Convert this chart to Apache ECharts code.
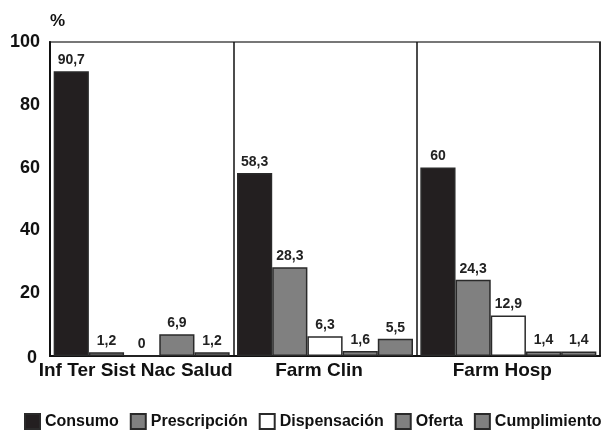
<!DOCTYPE html>
<html>
<head>
<meta charset="utf-8">
<style>
  html, body { margin: 0; padding: 0; background: #fff; }
  #chart { width: 607px; height: 430px; }
</style>
<script src="https://cdn.jsdelivr.net/npm/echarts@6/dist/echarts.min.js"></script>
</head>
<body>
<div id="chart"></div>
<script>
// Categories (groups along the x axis)
var categories = ['Inf Ter Sist Nac Salud', 'Farm Clin', 'Farm Hosp'];

// Series values, in %
var consumo      = [90.7, 58.3, 60];
var prescripcion = [1.2, 28.3, 24.3];
var dispensacion = [0, 6.3, 12.9];
var oferta       = [6.9, 1.6, 1.4];
var cumplimiento = [1.2, 5.5, 1.4];

var seriesNames = ['Consumo', 'Prescripción', 'Dispensación', 'Oferta', 'Cumplimiento'];

var FONT = '"Liberation Sans", Arial, Helvetica, sans-serif';
var EDGE = '#2a2a2a';

function fmt(v) {
  return String(v).replace('.', ',');
}

function barSeries(name, values, fill) {
  return {
    name: name,
    type: 'bar',
    data: values,
    barGap: '0%',
    barCategoryGap: '4%',
    itemStyle: { color: fill, borderColor: EDGE, borderWidth: 1.5 },
    label: {
      show: true,
      position: 'top',
      distance: 4,
      fontFamily: FONT,
      fontWeight: 'bold',
      fontSize: 14,
      color: '#222',
      formatter: function (p) { return fmt(p.value); }
    }
  };
}

var chart = echarts.init(document.getElementById('chart'), null, { renderer: 'canvas' });

chart.setOption({
  animation: false,
  backgroundColor: '#fff',
  textStyle: { fontFamily: FONT },
  grid: {
    left: 50, right: 7, top: 42, bottom: 74,
    show: true, borderColor: '#777', borderWidth: 2, backgroundColor: 'transparent'
  },
  legend: {
    left: 24, top: 413, padding: 0,
    itemWidth: 15, itemHeight: 15, itemGap: 11,
    icon: 'rect',
    textStyle: { fontFamily: FONT, fontWeight: 'bold', fontSize: 16, color: '#111' },
    data: seriesNames
  },
  xAxis: {
    type: 'category',
    data: categories,
    axisLine: { show: true, lineStyle: { color: '#111', width: 2 } },
    axisTick: { show: false },
    splitLine: { show: true, interval: 0, lineStyle: { color: '#111', width: 1.5 } },
    axisLabel: {
      interval: 0, margin: 5,
      padding: [0, 12, 0, 0],
      fontFamily: FONT, fontWeight: 'bold', fontSize: 19, color: '#111'
    }
  },
  yAxis: {
    type: 'value',
    min: 0, max: 100, interval: 20,
    name: '%',
    nameLocation: 'end',
    nameGap: 12,
    nameTextStyle: { fontFamily: FONT, fontWeight: 'bold', fontSize: 17, color: '#111', align: 'left' },
    axisLine: { show: true, lineStyle: { color: '#111', width: 2 } },
    axisTick: { show: false },
    splitLine: { show: false },
    axisLabel: {
      margin: 10,
      fontFamily: FONT, fontWeight: 'bold', fontSize: 18, color: '#111',
      formatter: function (v) { return v === 0 ? '{z|0}' : String(v); },
      rich: {
        z: { fontFamily: FONT, fontWeight: 'bold', fontSize: 18, color: '#111', padding: [5, 3, 0, 0] }
      }
    }
  },
  series: [
    barSeries(seriesNames[0], consumo, '#231f20'),
    barSeries(seriesNames[1], prescripcion, '#808080'),
    barSeries(seriesNames[2], dispensacion, '#ffffff'),
    barSeries(seriesNames[3], oferta, '#808080'),
    barSeries(seriesNames[4], cumplimiento, '#808080')
  ]
});
</script>
</body>
</html>
